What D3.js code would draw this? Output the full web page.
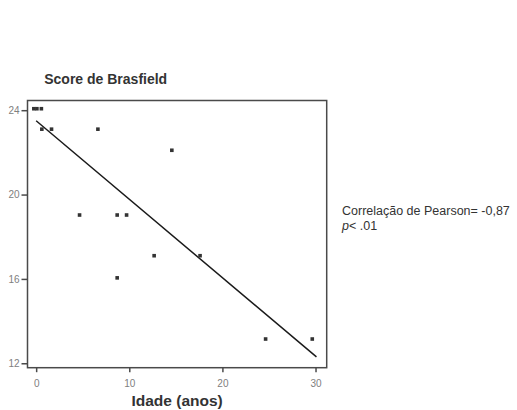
<!DOCTYPE html>
<html>
<head>
<meta charset="utf-8">
<script src="https://cdn.jsdelivr.net/npm/d3@7"></script>
<style>
  html, body { margin: 0; padding: 0; background: #fff; }
  svg { display: block; font-family: "Liberation Sans", Arial, sans-serif; }
</style>
</head>
<body>
<svg id="chart" width="517" height="410"></svg>
<script>
// Data
const ageYears = [-0.25, 0.08, 0.56, 0.61, 1.65, 6.63, 14.57, 4.66, 8.7, 9.71, 12.67, 17.6, 8.7, 24.64, 29.65];
const brasfieldScore = [24.07, 24.07, 24.07, 23.1, 23.1, 23.1, 22.1, 19.03, 19.03, 19.03, 17.1, 17.1, 16.05, 13.15, 13.15];
const fitX = [0, 30.1];
const fitY = [23.5, 12.3];
const xTicks = [0, 10, 20, 30];
const yTicks = [12, 16, 20, 24];
const titleText = "Score de Brasfield";
const xLabel = "Idade (anos)";
const corrLine1 = "Correlação de Pearson= -0,87";

const svg = d3.select("#chart");
const L = 27.5, R = 326.7, T = 100.5, B = 367.7;

const x = d3.scaleLinear().domain([-0.93, 31.2]).range([L, R]);
const y = d3.scaleLinear().domain([11.79, 24.46]).range([B, T]);

// Frame
svg.append("rect")
  .attr("x", L).attr("y", T)
  .attr("width", R - L).attr("height", B - T)
  .attr("fill", "none").attr("stroke", "#4a4a4a").attr("stroke-width", 1.5);

// Axes
const yAxis = d3.axisLeft(y).tickValues(yTicks).tickSize(6).tickPadding(2).tickFormat(d3.format("d"));
const gy = svg.append("g").attr("transform", `translate(${L},0)`).call(yAxis);
gy.select(".domain").remove();
gy.selectAll(".tick line").attr("stroke", "#4a4a4a").attr("stroke-width", 1.5);
gy.selectAll(".tick text").attr("fill", "#808080").attr("font-size", 10).attr("font-family", "Liberation Sans, Arial, sans-serif");

const xAxis = d3.axisBottom(x).tickValues(xTicks).tickSize(4.5).tickPadding(8).tickFormat(d3.format("d"));
const gx = svg.append("g").attr("transform", `translate(0,${B})`).call(xAxis);
gx.select(".domain").remove();
gx.selectAll(".tick line").attr("stroke", "#4a4a4a").attr("stroke-width", 1.5);
gx.selectAll(".tick text").attr("fill", "#808080").attr("font-size", 10).attr("font-family", "Liberation Sans, Arial, sans-serif");

// Fit line
const line = d3.line().x(d => x(d[0])).y(d => y(d[1]));
svg.append("path")
  .datum(d3.zip(fitX, fitY))
  .attr("d", line)
  .attr("fill", "none").attr("stroke", "#1a1a1a").attr("stroke-width", 1.5);

// Points
const s = 3.6;
svg.append("g").selectAll("rect")
  .data(d3.zip(ageYears, brasfieldScore))
  .join("rect")
  .attr("x", d => x(d[0]) - s / 2)
  .attr("y", d => y(d[1]) - s / 2)
  .attr("width", s).attr("height", s)
  .attr("fill", "#333");

// Title
svg.append("text")
  .attr("x", 105.7).attr("y", 84)
  .attr("text-anchor", "middle")
  .attr("font-size", 14).attr("font-weight", "bold")
  .attr("fill", "#333")
  .text(titleText);

// X label
svg.append("text")
  .attr("x", (L + R) / 2).attr("y", 406)
  .attr("text-anchor", "middle")
  .attr("font-size", 15.5).attr("font-weight", "bold")
  .attr("fill", "#333")
  .text(xLabel);

// Correlation annotation
const ann = svg.append("text")
  .attr("x", 342).attr("y", 215)
  .attr("font-size", 12.5).attr("fill", "#333");
ann.append("tspan").attr("x", 342).text(corrLine1);
const l2 = ann.append("tspan").attr("x", 342).attr("dy", 15);
l2.append("tspan").attr("font-style", "italic").text("p");
l2.append("tspan").text("< .01");
</script>
</body>
</html>
